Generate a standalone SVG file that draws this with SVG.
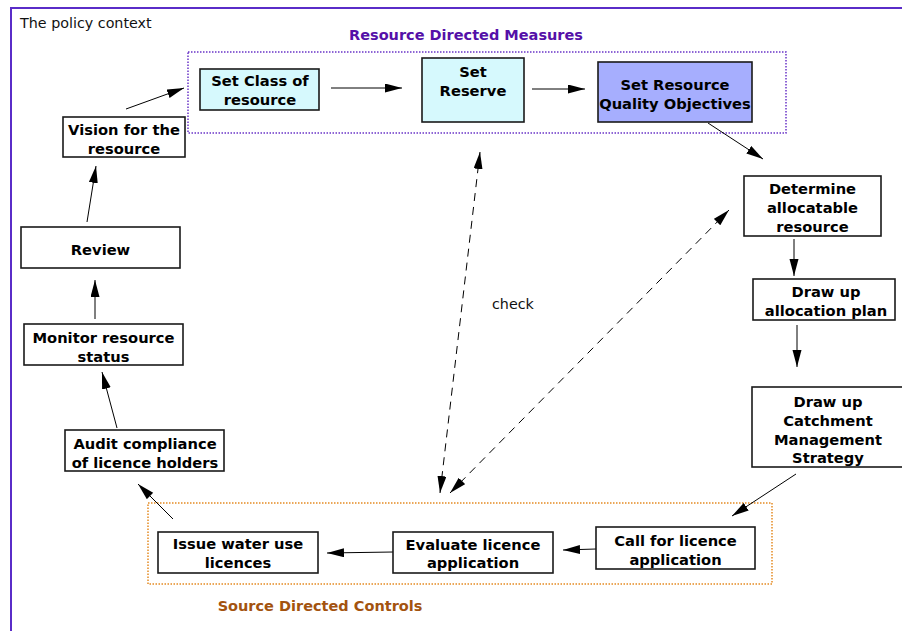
<svg xmlns="http://www.w3.org/2000/svg" width="902" height="631" viewBox="0 0 902 631">
  <defs>
    <style>
      .frame { fill: none; stroke: #5a2cc8; stroke-width: 2; }
      .node rect { fill: #ffffff; stroke: #1a1a1a; stroke-width: 1.6; }
      .node.cyan rect { fill: #d6f9fd; }
      .node.violet rect { fill: #a6aefe; }
      .node text { font-family: "DejaVu Sans", Verdana, sans-serif; font-weight: bold; font-size: 14.7px; fill: #000; text-anchor: middle; }
      .caption { font-family: "DejaVu Sans", Verdana, sans-serif; font-size: 14.3px; fill: #111; }
      .group-title { font-family: "DejaVu Sans", Verdana, sans-serif; font-weight: bold; font-size: 14.5px; text-anchor: middle; }
      .rdm { fill: none; stroke: #6a35c8; stroke-width: 1.5; stroke-dasharray: 1.5 1.5; }
      .sdc { fill: none; stroke: #e58a22; stroke-width: 1.5; stroke-dasharray: 1.5 1.5; }
      .edge { fill: none; stroke: #000; stroke-width: 1; marker-end: url(#head); }
      .edge.dashed { stroke-dasharray: 8 6; marker-start: url(#head); }
    </style>
    <marker id="head" markerUnits="userSpaceOnUse" markerWidth="18" markerHeight="10" refX="17" refY="4.5" orient="auto-start-reverse" viewBox="0 0 18 10">
      <path d="M0,0 L17,4.5 L0,9 Z" fill="#000"/>
    </marker>
  </defs>

  <rect width="902" height="631" fill="#ffffff"/>

  <!-- outer frame: the policy context -->
  <path class="frame" d="M11,631 L11,8 L902,8"/>
  <text class="caption" x="20" y="28">The policy context</text>

  <!-- grouping boxes -->
  <g id="resource-directed-measures">
    <rect class="rdm" x="188" y="52" width="598" height="81"/>
    <text class="group-title" x="466" y="40" fill="#5510a8">Resource Directed Measures</text>
  </g>
  <g id="source-directed-controls">
    <rect class="sdc" x="148" y="503" width="624" height="81"/>
    <text class="group-title" x="320" y="611" fill="#a3530f">Source Directed Controls</text>
  </g>

  <!-- connectors -->
  <g id="connectors">
    <line class="edge" x1="126" y1="109" x2="184" y2="88"/>
    <line class="edge" x1="331" y1="88" x2="402" y2="88"/>
    <line class="edge" x1="532" y1="89" x2="585" y2="89"/>
    <line class="edge" x1="708" y1="123" x2="763" y2="159"/>
    <line class="edge" x1="794" y1="239" x2="794" y2="276"/>
    <line class="edge" x1="797" y1="325" x2="797" y2="367"/>
    <line class="edge" x1="796" y1="474" x2="732" y2="516"/>
    <line class="edge" x1="596" y1="549" x2="563" y2="550"/>
    <line class="edge" x1="393" y1="552" x2="327" y2="553"/>
    <line class="edge" x1="173" y1="519" x2="138" y2="484"/>
    <line class="edge" x1="117" y1="428" x2="102" y2="372"/>
    <line class="edge" x1="95" y1="319" x2="95" y2="280"/>
    <line class="edge" x1="87" y1="222" x2="96" y2="166"/>
    <line class="edge dashed" x1="440" y1="493" x2="480" y2="152"/>
    <line class="edge dashed" x1="450" y1="493" x2="729" y2="210"/>
    <text class="caption" x="492" y="309">check</text>
  </g>

  <!-- nodes -->
  <g id="vision" class="node">
    <rect x="63" y="117" width="122" height="40"/>
    <text x="124" y="135">Vision for the</text>
    <text x="124" y="154">resource</text>
  </g>
  <g id="set-class" class="node cyan">
    <rect x="200" y="69" width="119" height="41"/>
    <text x="260" y="86">Set Class of</text>
    <text x="260" y="105">resource</text>
  </g>
  <g id="set-reserve" class="node cyan">
    <rect x="422" y="58" width="102" height="64"/>
    <text x="473" y="77">Set</text>
    <text x="473" y="96">Reserve</text>
  </g>
  <g id="set-rqo" class="node violet">
    <rect x="598" y="62" width="154" height="60"/>
    <text x="675" y="90">Set Resource</text>
    <text x="675" y="109">Quality Objectives</text>
  </g>
  <g id="determine" class="node">
    <rect x="744" y="176" width="137" height="60"/>
    <text x="812.5" y="194">Determine</text>
    <text x="812.5" y="213">allocatable</text>
    <text x="812.5" y="232">resource</text>
  </g>
  <g id="allocation-plan" class="node">
    <rect x="753" y="279" width="142" height="41"/>
    <text x="826" y="297">Draw up</text>
    <text x="826" y="316">allocation plan</text>
  </g>
  <g id="cms" class="node">
    <rect x="752" y="387" width="160" height="80"/>
    <text x="828" y="407">Draw up</text>
    <text x="828" y="426">Catchment</text>
    <text x="828" y="445">Management</text>
    <text x="828" y="463">Strategy</text>
  </g>
  <g id="call-application" class="node">
    <rect x="596" y="527" width="159" height="42"/>
    <text x="675.5" y="546">Call for licence</text>
    <text x="675.5" y="565">application</text>
  </g>
  <g id="evaluate" class="node">
    <rect x="393" y="532" width="160" height="41"/>
    <text x="473" y="550">Evaluate licence</text>
    <text x="473" y="568">application</text>
  </g>
  <g id="issue-licences" class="node">
    <rect x="158" y="532" width="160" height="41"/>
    <text x="238" y="549">Issue water use</text>
    <text x="238" y="568">licences</text>
  </g>
  <g id="audit" class="node">
    <rect x="65" y="430" width="159" height="41"/>
    <text x="145" y="449">Audit compliance</text>
    <text x="145" y="468">of licence holders</text>
  </g>
  <g id="monitor" class="node">
    <rect x="24" y="324" width="159" height="41"/>
    <text x="103.5" y="343">Monitor resource</text>
    <text x="103.5" y="362">status</text>
  </g>
  <g id="review" class="node">
    <rect x="21" y="227" width="159" height="41"/>
    <text x="100.5" y="255">Review</text>
  </g>
</svg>
